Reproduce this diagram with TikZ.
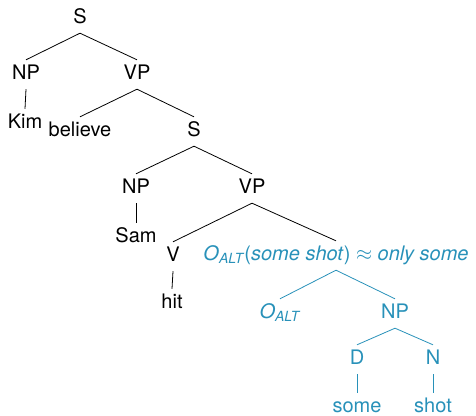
\documentclass[tikz,border=0pt]{standalone}
\usepackage{fontspec}
\setmainfont{TeX Gyre Heros}
\definecolor{alt}{RGB}{40,145,185}
\newcommand{\oalt}{\textit{O}{\fontsize{14}{14}\selectfont\raisebox{-3pt}{\textit{ALT}}}}
\begin{document}
\begin{tikzpicture}[x=1pt,y=-1pt,
  lab/.style={anchor=base,inner sep=0pt,text height=19pt,text depth=10pt,font=\fontsize{20}{20}\selectfont},
  blu/.style={lab,text=alt},
  edge/.style={line width=0.8pt,black},
  bedge/.style={line width=0.8pt,alt}]
\useasboundingbox (0,0) rectangle (476,415);
\node[lab] (s1) at (80,23) {S};
\node[lab] (np1) at (26,79) {NP};
\node[lab] (vp1) at (137,79) {VP};
\node[lab] (kim) at (25,128) {Kim};
\node[lab] (bel) at (80,136) {believe};
\node[lab] (s2) at (194,136) {S};
\node[lab] (np2) at (136,193) {NP};
\node[lab] (vp2) at (252,193) {VP};
\node[lab] (sam) at (136,242) {Sam};
\node[lab] (v) at (173,261) {V};
\node[lab] (hit) at (172,308) {hit};
\node[blu] (top) at (336,260) {\oalt(\textit{some shot}) $\approx$ \textit{only some}};
\node[blu] (oalt) at (280,318) {\oalt};
\node[blu] (np3) at (395,318) {NP};
\node[blu] (d) at (357,364) {D};
\node[blu] (n) at (433,364) {N};
\node[blu] (some) at (357,412) {some};
\node[blu] (shot) at (433,412) {shot};
\draw[edge] (s1.south) -- (np1.north);
\draw[edge] (s1.south) -- (vp1.north);
\draw[edge] (np1.south) -- (kim.north);
\draw[edge] (vp1.south) -- (bel.north);
\draw[edge] (vp1.south) -- (s2.north);
\draw[edge] (s2.south) -- (np2.north);
\draw[edge] (s2.south) -- (vp2.north);
\draw[edge] (np2.south) -- (sam.north);
\draw[edge] (vp2.south) -- (v.north);
\draw[edge] (vp2.south) -- (top.north);
\draw[edge] (v.south) -- (hit.north);
\draw[bedge] (top.south) -- (oalt.north);
\draw[bedge] (top.south) -- (np3.north);
\draw[bedge] (np3.south) -- (d.north);
\draw[bedge] (np3.south) -- (n.north);
\draw[bedge] (d.south) -- (some.north);
\draw[bedge] (n.south) -- (shot.north);
\end{tikzpicture}
\end{document}
